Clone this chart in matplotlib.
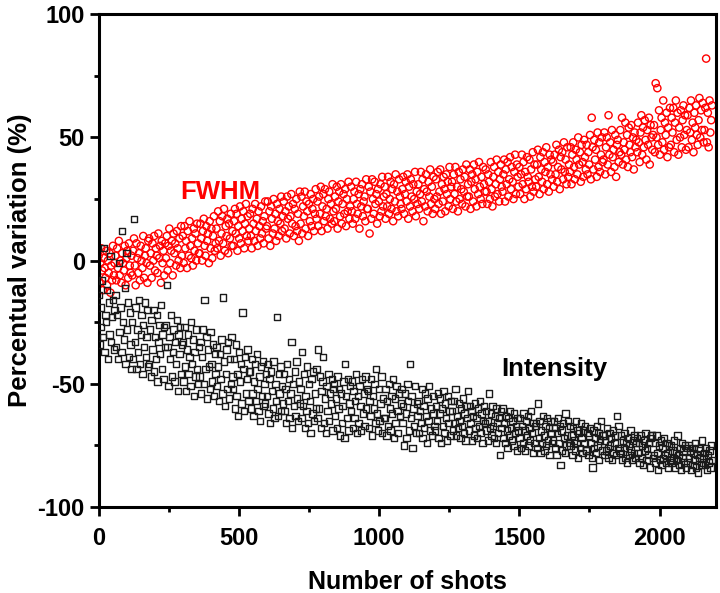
import numpy as np
import matplotlib
matplotlib.use("Agg")
import matplotlib.pyplot as plt
from matplotlib.ticker import MultipleLocator

# one reading every 3 shots, estimated from the figure
step = 3

fwhm = [
    2, -9, -1, 5, -4, -12, 1, -3, -7, 4, -10, 0, -5, 3, -13, -2, -8, 6, -6, -1,
    2, -8, 5, -3, 8, -6, 0, -9, 3, -1, -4, 6, -10, 1, 4, -7, 7, -2, -5, 2,
    -6, 4, 9, -2, -10, 7, 1, -5, 3, -8, 6, 0, -3, 10, -7, 2, 5, -1, -9, 8,
    9, -2, 3, -7, 7, 0, 10, -4, 5, 2, -5, 11, 1, 6, -9, 8, -1, 4, -6, 7,
    1, 10, -4, 6, 13, -1, 4, 8, -6, 11, 3, 7, -2, 12, 5, 0, 9, -3, 14, 2,
    10, -1, 14, 5, 8, -3, 12, 2, 16, 6, 1, 9, -2, 13, 4, 11, 0, 15, 7, 3,
    3, 15, 9, 0, 12, 17, 6, 2, 14, 8, 11, -1, 16, 5, 13, 1, 10, 18, 4, 7,
    13, 5, 20, 8, 16, 2, 11, 18, 7, 21, 4, 14, 10, 17, 3, 15, 9, 19, 6, 12,
    6, 16, 21, 11, 19, 4, 14, 9, 22, 7, 17, 12, 20, 5, 15, 23, 10, 18, 8, 13,
    19, 10, 5, 21, 15, 8, 23, 12, 17, 6, 20, 14, 9, 22, 11, 16, 7, 18, 24, 13,
    14, 24, 9, 20, 6, 22, 17, 11, 25, 13, 19, 8, 23, 16, 10, 21, 15, 26, 12, 18,
    24, 13, 20, 9, 26, 17, 22, 11, 18, 27, 15, 23, 10, 21, 14, 25, 12, 19, 8, 28,
    15, 26, 11, 22, 18, 28, 13, 24, 20, 10, 23, 16, 27, 14, 21, 25, 12, 19, 29, 17,
    24, 14, 26, 19, 30, 12, 22, 27, 16, 29, 18, 21, 13, 25, 28, 17, 23, 15, 31, 20,
    16, 26, 21, 30, 13, 24, 28, 18, 31, 15, 23, 27, 19, 29, 14, 25, 20, 32, 17, 22,
    30, 20, 15, 25, 28, 17, 32, 23, 19, 27, 13, 29, 22, 31, 18, 24, 26, 16, 33, 21,
    21, 30, 11, 28, 17, 33, 25, 19, 32, 23, 27, 15, 29, 24, 18, 31, 20, 34, 22, 26,
    30, 17, 27, 22, 34, 19, 25, 32, 21, 29, 16, 31, 24, 35, 20, 28, 18, 33, 26, 23,
    21, 29, 34, 19, 27, 32, 24, 35, 17, 30, 22, 33, 26, 20, 31, 25, 36, 18, 28, 23,
    31, 21, 27, 36, 24, 33, 16, 29, 22, 35, 28, 20, 32, 26, 37, 23, 30, 19, 34, 25,
    21, 33, 26, 36, 23, 28, 37, 19, 31, 24, 34, 29, 20, 35, 27, 32, 22, 38, 25, 30,
    32, 21, 35, 27, 38, 24, 30, 20, 36, 25, 33, 29, 23, 37, 28, 34, 22, 39, 26, 31,
    26, 37, 21, 32, 35, 24, 39, 29, 33, 22, 36, 27, 40, 30, 25, 34, 23, 38, 31, 28,
    37, 28, 23, 35, 32, 25, 40, 29, 22, 34, 38, 26, 31, 41, 27, 36, 24, 33, 39, 30,
    28, 35, 41, 24, 37, 31, 40, 26, 33, 42, 29, 38, 32, 25, 36, 43, 27, 39, 34, 30,
    38, 27, 35, 43, 31, 40, 25, 36, 29, 42, 34, 32, 41, 26, 37, 30, 44, 28, 39, 33,
    30, 39, 45, 34, 27, 42, 37, 32, 44, 29, 40, 36, 46, 31, 38, 28, 43, 35, 41, 33,
    40, 30, 43, 35, 47, 32, 38, 45, 29, 42, 37, 44, 33, 48, 36, 41, 31, 46, 34, 39,
    36, 46, 31, 43, 48, 38, 33, 45, 41, 35, 50, 39, 44, 32, 47, 40, 34, 49, 42, 37,
    47, 35, 44, 39, 51, 33, 58, 46, 37, 49, 41, 45, 34, 52, 38, 48, 36, 43, 50, 40,
    41, 52, 35, 46, 50, 39, 59, 43, 48, 36, 53, 42, 45, 38, 51, 34, 47, 49, 40, 44,
    53, 43, 58, 39, 48, 45, 56, 41, 51, 38, 54, 47, 44, 55, 42, 50, 37, 52, 46, 49,
    44, 56, 48, 40, 52, 59, 43, 54, 46, 57, 49, 41, 53, 47, 58, 39, 55, 50, 45, 51,
    55, 44, 72, 50, 70, 47, 61, 43, 53, 58, 48, 65, 45, 56, 51, 60, 42, 54, 46, 62,
    47, 58, 52, 62, 44, 56, 65, 49, 60, 43, 54, 50, 61, 46, 57, 63, 51, 59, 45, 53,
    59, 46, 62, 52, 65, 49, 56, 44, 60, 54, 63, 51, 47, 57, 66, 50, 61, 53, 64, 48,
    53, 62, 82, 48, 60, 46, 65, 52, 57, 63,
]

intensity = [
    -14, -34, -19, -27, -8, -31, 5, -37, -22, -25, -12, -40, -17, -30, 2, -33, -23, -16, -36, -20,
    -14, -35, -22, -40, -1, -29, -19, -37, 12, -25, -32, -11, -42, 3, -28, -17, -39, -21, -34, -44,
    -25, -40, 17, -33, -19, -44, -28, -37, -16, -42, -30, -22, -46, -26, -35, -17, -39, -31, -20, -43,
    -42, -28, -47, -24, -36, -20, -45, -31, -40, -22, -49, -33, -26, -38, -18, -44, -30, -48, -27, -35,
    -26, -10, -35, -51, -31, -40, -22, -47, -37, -28, -49, -33, -42, -24, -53, -30, -38, -27, -46, -34,
    -33, -49, -27, -43, -53, -36, -30, -46, -39, -51, -25, -42, -32, -55, -37, -47, -28, -44, -50, -35,
    -47, -33, -54, -39, -28, -50, -16, -44, -31, -56, -36, -43, -52, -29, -42, -49, -34, -55, -38, -46,
    -35, -51, -43, -57, -38, -48, -32, -54, -15, -41, -59, -46, -36, -52, -33, -56, -40, -50, -31, -47,
    -52, -40, -60, -34, -55, -46, -63, -37, -49, -42, -58, -21, -44, -61, -39, -54, -48, -36, -57, -45,
    -45, -60, -40, -54, -63, -49, -42, -57, -38, -52, -61, -47, -65, -43, -55, -41, -59, -50, -58, -46,
    -55, -42, -62, -48, -66, -45, -53, -60, -41, -64, -50, -57, -23, -63, -46, -54, -43, -61, -51, -58,
    -46, -61, -52, -66, -42, -57, -48, -64, -54, -33, -68, -50, -59, -45, -63, -41, -56, -65, -49, -58,
    -52, -64, -37, -59, -46, -68, -55, -61, -43, -66, -50, -57, -70, -48, -62, -45, -65, -54, -60, -44,
    -64, -36, -60, -47, -68, -53, -49, -39, -66, -56, -70, -51, -61, -46, -65, -54, -58, -48, -69, -52,
    -50, -63, -56, -68, -47, -60, -52, -71, -54, -66, -59, -49, -72, -42, -55, -64, -48, -69, -58, -51,
    -61, -49, -68, -53, -64, -57, -46, -70, -55, -66, -51, -59, -69, -48, -62, -54, -67, -47, -60, -52,
    -53, -68, -57, -63, -48, -71, -55, -60, -50, -66, -44, -62, -69, -52, -65, -58, -47, -70, -56, -64,
    -64, -52, -71, -57, -67, -50, -60, -69, -55, -62, -48, -72, -56, -66, -51, -61, -70, -54, -63, -58,
    -52, -66, -59, -75, -54, -62, -72, -50, -57, -69, -42, -64, -55, -76, -60, -67, -51, -70, -58, -63,
    -57, -70, -61, -66, -52, -72, -59, -68, -54, -63, -74, -56, -65, -51, -69, -60, -71, -55, -62, -67,
    -69, -59, -65, -54, -72, -62, -56, -74, -60, -67, -53, -70, -58, -64, -73, -55, -66, -61, -71, -57,
    -61, -69, -57, -66, -52, -71, -63, -68, -58, -65, -72, -60, -67, -56, -70, -62, -73, -59, -64, -53,
    -69, -59, -66, -61, -73, -63, -71, -58, -68, -64, -72, -60, -67, -57, -70, -62, -74, -65, -59, -66,
    -61, -69, -65, -73, -54, -68, -62, -71, -59, -67, -72, -63, -74, -60, -66, -70, -64, -79, -61, -68,
    -60, -72, -66, -74, -63, -69, -76, -64, -71, -61, -68, -73, -65, -75, -62, -70, -67, -77, -64, -69,
    -72, -64, -76, -67, -74, -62, -69, -77, -65, -71, -63, -75, -68, -73, -61, -70, -78, -66, -74, -67,
    -66, -76, -58, -72, -65, -78, -69, -74, -63, -71, -77, -67, -75, -64, -73, -68, -79, -65, -70, -74,
    -73, -65, -76, -68, -79, -70, -64, -74, -67, -83, -69, -77, -66, -72, -78, -62, -75, -71, -65, -74,
    -67, -75, -71, -79, -68, -73, -77, -65, -74, -69, -80, -70, -76, -66, -72, -78, -69, -74, -67, -77,
    -77, -70, -79, -71, -68, -74, -80, -84, -69, -76, -72, -78, -67, -75, -70, -81, -73, -65, -77, -71,
    -71, -79, -73, -77, -68, -76, -80, -70, -75, -72, -81, -69, -78, -74, -71, -79, -63, -76, -67, -77,
    -78, -71, -81, -73, -76, -70, -80, -74, -82, -72, -75, -79, -69, -77, -81, -73, -78, -71, -80, -74,
    -72, -78, -74, -82, -71, -80, -75, -83, -73, -77, -70, -81, -76, -79, -74, -84, -72, -71, -71, -80,
    -79, -74, -82, -71, -78, -85, -75, -81, -73, -83, -76, -80, -72, -79, -82, -74, -78, -84, -75, -81,
    -75, -82, -77, -80, -73, -84, -78, -81, -71, -79, -83, -76, -85, -74, -80, -77, -82, -75, -84, -76,
    -82, -75, -80, -77, -85, -76, -83, -78, -81, -74, -84, -79, -86, -76, -80, -77, -83, -73, -82, -80,
    -78, -83, -76, -85, -79, -82, -77, -84, -75, -81,
]

x_ticks = [0, 500, 1000, 1500, 2000]
y_ticks = [-100, -50, 0, 50, 100]

shots_f = np.arange(len(fwhm)) * step
shots_i = np.arange(len(intensity)) * step

plt.rcParams['font.family'] = ['Liberation Sans', 'DejaVu Sans']
plt.rcParams['font.weight'] = 'bold'
plt.rcParams['axes.unicode_minus'] = False

fig = plt.figure(figsize=(7.2, 5.93), dpi=100)
ax = fig.add_axes([0.137, 0.145, 0.857, 0.831])

ax.scatter(shots_f, fwhm, s=27, marker='o', facecolors='none',
           edgecolors='#ff0000', linewidths=1.0, zorder=2)
ax.scatter(shots_i, intensity, s=21, marker='s', facecolors='none',
           edgecolors='#1a1a1a', linewidths=1.0, zorder=3)

ax.text(292, 28, 'FWHM', color='#ff0000', fontsize=18.5, fontweight='bold',
        ha='left', va='center')
ax.text(1435, -44, 'Intensity', color='black', fontsize=18.5, fontweight='bold',
        ha='left', va='center')

ax.set_xlim(0, 2200)
ax.set_ylim(-100, 100)
ax.set_xticks(x_ticks)
ax.set_yticks(y_ticks)
ax.xaxis.set_minor_locator(MultipleLocator(250))
ax.yaxis.set_minor_locator(MultipleLocator(25))

for sp in ax.spines.values():
    sp.set_linewidth(2.2)
ax.tick_params(which='major', direction='out', length=6.5, width=2,
               labelsize=17, top=False, right=False)
ax.tick_params(axis='x', which='major', pad=8)
ax.tick_params(which='minor', direction='out', length=3.5, width=2,
               top=False, right=False)
for lab in ax.get_xticklabels() + ax.get_yticklabels():
    lab.set_fontweight('bold')

ax.set_xlabel('Number of shots', fontsize=18, fontweight='bold', labelpad=14)
ax.set_ylabel('Percentual variation (%)', fontsize=18.5, fontweight='bold', labelpad=4)

fig.savefig('out.png', dpi=100)
